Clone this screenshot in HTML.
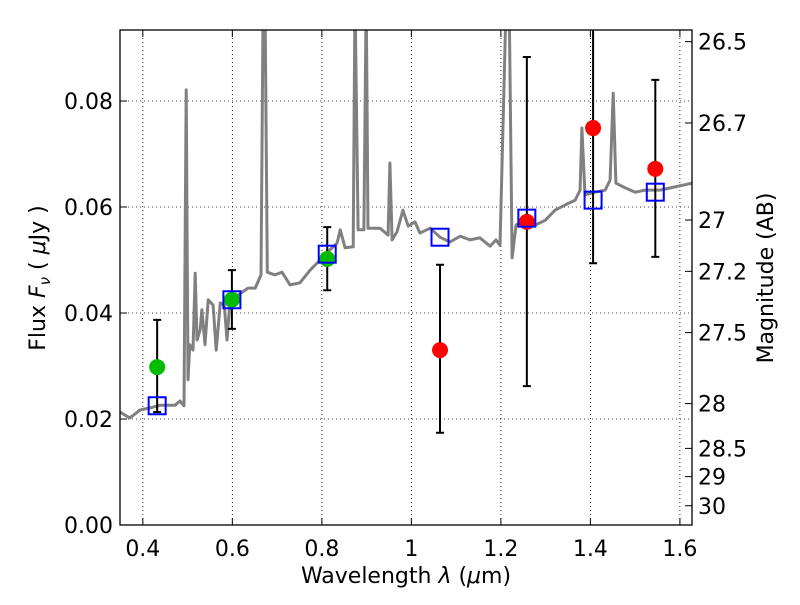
<!DOCTYPE html>
<html><head><meta charset="utf-8"><style>
body{margin:0;background:#fff}
svg{font-family:"DejaVu Sans","Liberation Sans",sans-serif}
</style></head><body>
<svg id="chart" width="800" height="600" xmlns="http://www.w3.org/2000/svg">
<defs><clipPath id="clip"><rect x="120" y="30" width="572" height="495"/></clipPath></defs>
<rect x="0" y="0" width="800" height="600" fill="#fff"/>
<g id="grid"></g>
<g id="spec" clip-path="url(#clip)"></g>
<g id="marks" clip-path="url(#clip)"></g>
<rect x="120" y="30" width="572" height="495" fill="none" stroke="#000" stroke-width="1.3"/>
<g id="axes"></g>
<text x="406" y="583" font-size="22" text-anchor="middle">Wavelength  <tspan font-style="italic">λ</tspan> (<tspan font-style="italic">μ</tspan>m)</text>
<text transform="translate(45,278) rotate(-90)" font-size="22" text-anchor="middle">Flux  <tspan font-style="italic">F</tspan><tspan font-style="italic" font-size="15" dy="5">ν</tspan><tspan dy="-5">  (  </tspan><tspan font-style="italic">μ</tspan>Jy )</text>
<text transform="translate(773,278) rotate(-90)" font-size="22" text-anchor="middle">Magnitude (AB)</text>
</svg>
<script>
const specLam=[0.349,0.371,0.394,0.416,0.438,0.472,0.483,0.492,0.497,0.501,0.505,0.512,0.517,0.521,0.528,0.532,0.539,0.546,0.557,0.564,0.573,0.582,0.588,0.595,0.613,0.635,0.651,0.664,0.669,0.673,0.678,0.695,0.711,0.729,0.751,0.774,0.796,0.818,0.834,0.841,0.852,0.870,0.874,0.881,0.894,0.899,0.903,0.930,0.948,0.952,0.957,0.968,0.981,0.993,1.008,1.019,1.042,1.064,1.086,1.109,1.131,1.153,1.176,1.189,1.198,1.212,1.219,1.225,1.234,1.254,1.277,1.299,1.321,1.344,1.366,1.377,1.381,1.388,1.410,1.433,1.444,1.451,1.457,1.478,1.500,1.522,1.556,1.589,1.627];
const specFlux=[0.0213,0.0202,0.0217,0.0221,0.0226,0.0226,0.0234,0.0225,0.0821,0.0274,0.0340,0.0330,0.0475,0.0349,0.0368,0.0406,0.0340,0.0425,0.0415,0.0330,0.0419,0.0415,0.0349,0.0425,0.0434,0.0447,0.0447,0.0472,0.100,0.100,0.0477,0.0472,0.0477,0.0453,0.0457,0.0481,0.0500,0.0519,0.0532,0.0557,0.0523,0.0525,0.100,0.0557,0.0557,0.100,0.0560,0.0560,0.0547,0.0683,0.0538,0.0553,0.0594,0.0564,0.0572,0.0551,0.0560,0.0543,0.0534,0.0545,0.0538,0.0542,0.0526,0.0538,0.0528,0.100,0.095,0.0504,0.0566,0.0575,0.0566,0.0575,0.0594,0.0604,0.0613,0.0632,0.0749,0.0623,0.0628,0.0632,0.0651,0.0815,0.0645,0.0636,0.0628,0.0632,0.0632,0.0638,0.0645];
const bandLam=[0.432,0.599,0.812,1.064,1.258,1.406,1.545];
const modelFlux=[0.0225,0.0425,0.0511,0.0543,0.0579,0.0613,0.0628];
const greenLam=[0.432,0.599,0.812];
const greenFlux=[0.0298,0.0425,0.0502];
const greenLo=[0.0213,0.0370,0.0443];
const greenHi=[0.0387,0.0481,0.0562];
const redLam=[1.064,1.258,1.406,1.545];
const redFlux=[0.0330,0.0572,0.0749,0.0672];
const redLo=[0.0174,0.0262,0.0494,0.0506];
const redHi=[0.0491,0.0883,0.0996,0.0840];
const xTicks=[0.4,0.6,0.8,1.0,1.2,1.4,1.6];
const xTickLabels=["0.4","0.6","0.8","1","1.2","1.4","1.6"];
const yTicks=[0,0.02,0.04,0.06,0.08];
const yTickLabels=["0.00","0.02","0.04","0.06","0.08"];
const magTicks=[26.5,26.7,27,27.2,27.5,28,28.5,29,30];
const magTickLabels=["26.5","26.7","27","27.2","27.5","28","28.5","29","30"];

const X0=0.349,X1=1.627,Y0=0,Y1=0.0934;
const L=120,R=692,T=30,B=525;
function sx(v){return L+(v-X0)/(X1-X0)*(R-L);}
function sy(v){return B-(v-Y0)/(Y1-Y0)*(B-T);}
function magToFlux(m){return Math.pow(10,(23.9-m)/2.5);}
const NS="http://www.w3.org/2000/svg";
function mk(parent,tag,attrs){const e=document.createElementNS(NS,tag);for(const k in attrs)e.setAttribute(k,attrs[k]);parent.appendChild(e);return e;}
const grid=document.getElementById('grid'),axes=document.getElementById('axes'),spec=document.getElementById('spec'),marks=document.getElementById('marks');

xTicks.forEach((t,i)=>{
  const x=sx(t);
  const g=mk(grid,'line',{x1:x,x2:x,y1:T,y2:B,stroke:'#000','stroke-width':0.8,'stroke-dasharray':'1,3'});
  
  
  mk(axes,'line',{x1:x,x2:x,y1:B,y2:B-7,stroke:'#000','stroke-width':1});
  mk(axes,'line',{x1:x,x2:x,y1:T,y2:T+7,stroke:'#000','stroke-width':1});
  const tx=mk(axes,'text',{x:x,y:B+31,'font-size':22,'text-anchor':'middle'});
  tx.textContent=xTickLabels[i];
  
  
});
yTicks.forEach((t,i)=>{
  const y=sy(t);
  const g=mk(grid,'line',{x1:L,x2:R,y1:y,y2:y,stroke:'#000','stroke-width':0.8,'stroke-dasharray':'1,3'});
  
  
  mk(axes,'line',{x1:L,x2:L+7,y1:y,y2:y,stroke:'#000','stroke-width':1});
  const tx=mk(axes,'text',{x:L-7,y:y+8,'font-size':22,'text-anchor':'end'});
  tx.textContent=yTickLabels[i];
  
  
});
magTicks.forEach((m,i)=>{
  const y=sy(magToFlux(m));
  mk(axes,'line',{x1:R,x2:R-7,y1:y,y2:y,stroke:'#000','stroke-width':1});
  const tx=mk(axes,'text',{x:R+6,y:y+8,'font-size':22,'text-anchor':'start'});
  tx.textContent=magTickLabels[i];
  
  
});

const pts=specLam.map((l,i)=>sx(l).toFixed(1)+','+sy(specFlux[i]).toFixed(1)).join(' ');
const pl=mk(spec,'polyline',{points:pts,fill:'none',stroke:'#808080','stroke-width':3,'stroke-linejoin':'round'});



function errbar(l,lo,hi){
  const x=sx(l),y1=sy(lo),y2=sy(hi);
  const e=mk(marks,'path',{d:`M${x},${y1}V${y2}M${x-4},${y1}H${x+4}M${x-4},${y2}H${x+4}`,stroke:'#000','stroke-width':2,fill:'none'});
  
  
}
greenLam.forEach((l,i)=>errbar(l,greenLo[i],greenHi[i]));
redLam.forEach((l,i)=>errbar(l,redLo[i],redHi[i]));
greenLam.forEach((l,i)=>{
  const c=mk(marks,'circle',{cx:sx(l),cy:sy(greenFlux[i]),r:8,fill:'#00bb00'});
  
  
});
redLam.forEach((l,i)=>{
  const c=mk(marks,'circle',{cx:sx(l),cy:sy(redFlux[i]),r:8,fill:'#ff0000'});
  
  
});
bandLam.forEach((l,i)=>{
  const r=mk(marks,'rect',{x:sx(l)-8.5,y:sy(modelFlux[i])-8.5,width:17,height:17,fill:'none',stroke:'#0000ff','stroke-width':2});
  
  
});
</script>
</body></html>
